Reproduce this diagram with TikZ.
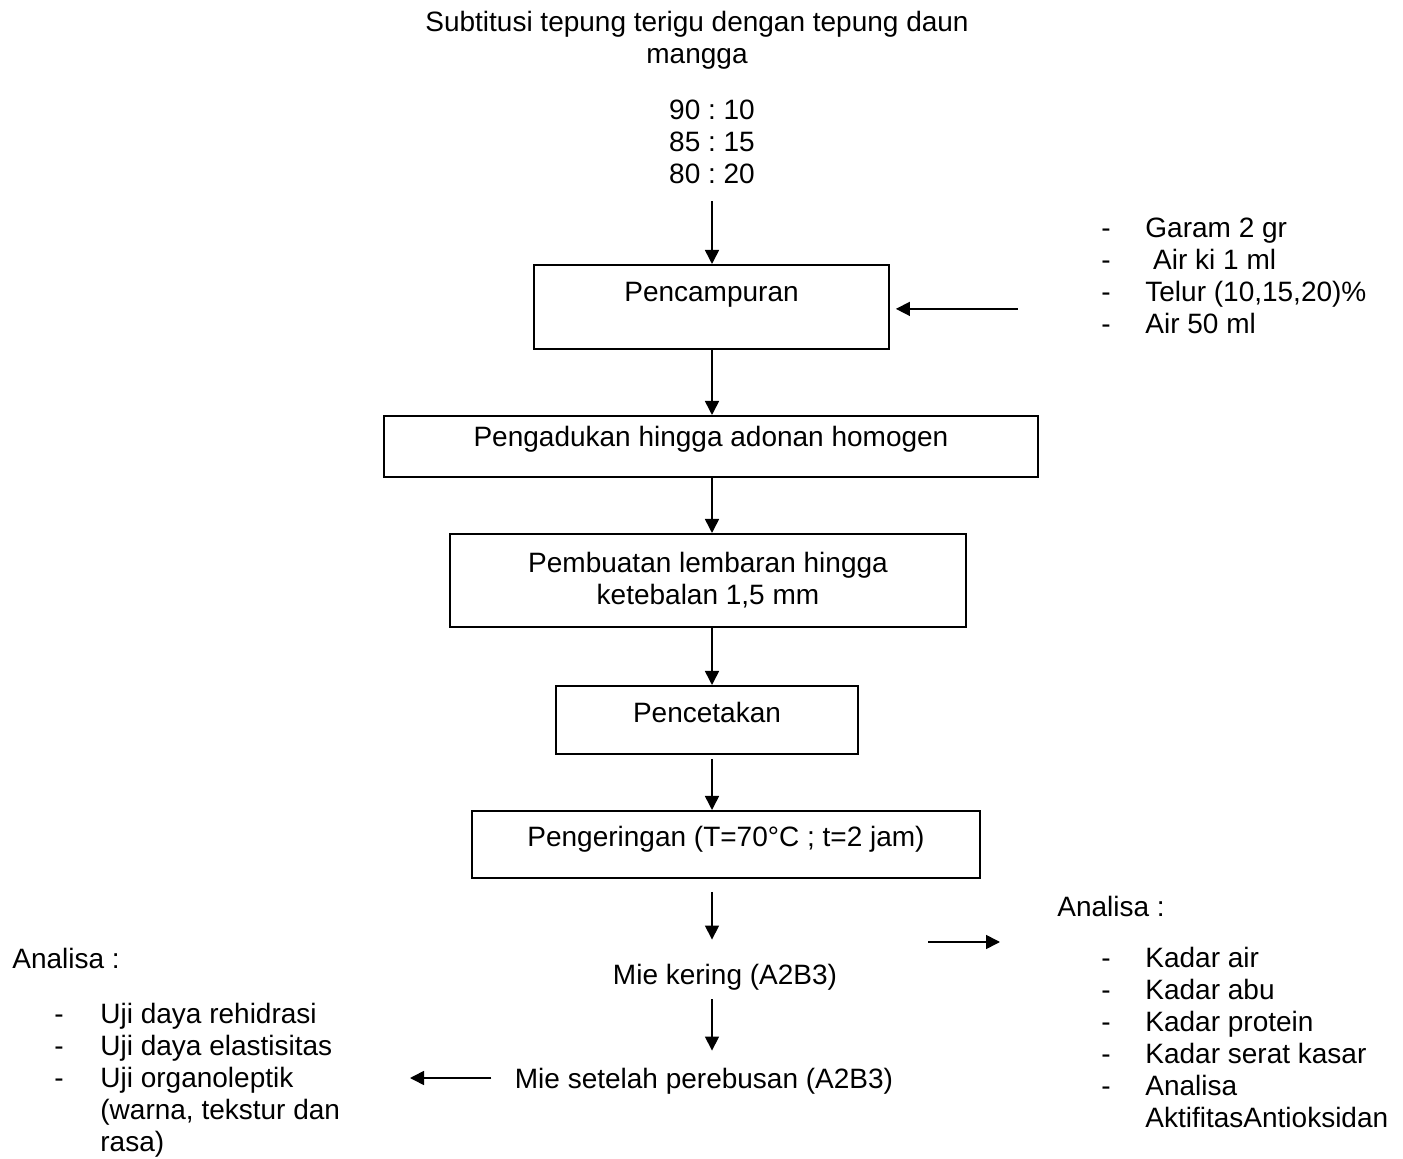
\documentclass[tikz,border=0pt]{standalone}
\usepackage{fontspec}
\setmainfont{Liberation Sans}
\usetikzlibrary{arrows.meta,calc}
\frenchspacing
\newcommand\lidash{\makebox[22pt][l]{-}}
\newcommand\lidashL{\makebox[23pt][l]{-}}
\begin{document}
\begin{tikzpicture}[x=0.5pt,y=-0.5pt,
  font=\fontsize{14}{16}\selectfont,
  box/.style={draw,line width=0.9pt,inner xsep=0pt,inner ysep=0pt,anchor=north},
  arr/.style={-{Triangle[length=7pt,width=7pt]},line width=0.8pt},
  txt/.style={inner sep=0pt}]
\useasboundingbox (0,0) rectangle (1403,1159);
\coordinate (ax) at (712,0);
% top texts
\node[txt,align=center] (title) at (697,40) {Subtitusi tepung terigu dengan tepung daun\\mangga};
\node[txt,align=center] (ratio) at (712,142) {90 : 10\\85 : 15\\80 : 20};
% boxes
\node[box,minimum width=177.5pt,text height=18.5pt,text depth=23.5pt] (b1) at (711.5,264) {Pencampuran};
\node[box,minimum width=327pt,text height=15.5pt,text depth=15pt] (b2) at (711,415) {Pengadukan hingga adonan homogen};
\node[box,minimum width=258pt,minimum height=46.5pt,align=center] (b3) at (708,533) {Pembuatan lembaran hingga\\ketebalan 1,5 mm};
\node[box,minimum width=151pt,text height=18.5pt,text depth=15.5pt] (b4) at (707,685) {Pencetakan};
\node[box,minimum width=254pt,text height=18pt,text depth=15.5pt] (b5) at (726,810) {Pengeringan (T=70°C ; t=2 jam)};
\node[txt] (mk) at (725,977) {Mie kering (A2B3)};
\node[txt] (ms) at (704,1081) {Mie setelah perebusan (A2B3)};
% side lists
\node[txt,anchor=north west,align=left] (ing) at (1101,218) {\lidash Garam 2 gr\\\lidash\ Air ki 1 ml\\\lidash Telur (10,15,20)\%\\\lidash Air 50 ml};
\node[txt,anchor=base west] (ra) at (1057,916) {Analisa :};
\node[txt,anchor=north west,align=left] (ral) at (1101,947) {\lidash Kadar air\\\lidash Kadar abu\\\lidash Kadar protein\\\lidash Kadar serat kasar\\\lidash Analisa\\\makebox[22pt]{}AktifitasAntioksidan};
\node[txt,anchor=base west] (la) at (12,968) {Analisa :};
\node[txt,anchor=north west,align=left] (lal) at (54,1003) {\lidashL Uji daya rehidrasi\\\lidashL Uji daya elastisitas\\\lidashL Uji organoleptik\\\makebox[23pt]{}(warna, tekstur dan\\\makebox[23pt]{}rasa)};
% connectors
\coordinate (rae) at (1000,942);
\coordinate (ras) at (928,942);
\coordinate (lae) at (410,1078);
\draw[arr] ($(ratio.south -| ax)+(0,17)$) -- (b1.north -| ax);
\draw[arr] ($(b1.east)+(128,2)$) -- ($(b1.east)+(6,2)$);
\draw[arr] (b1.south -| ax) -- (b2.north -| ax);
\draw[arr] (b2.south -| ax) -- (b3.north -| ax);
\draw[arr] (b3.south -| ax) -- (b4.north -| ax);
\draw[arr] ($(b4.south -| ax)+(0,4)$) -- (b5.north -| ax);
\draw[arr] ($(b5.south -| ax)+(0,13)$) -- ($(mk.north -| ax)+(0,-24)$);
\draw[arr] ($(mk.south -| ax)+(0,9)$) -- ($(ms.north -| ax)+(0,-17)$);
\draw[arr] (ras) -- (rae);
\draw[arr] ($(ms.west |- lae)+(-23,0)$) -- (lae);
\end{tikzpicture}
\end{document}
